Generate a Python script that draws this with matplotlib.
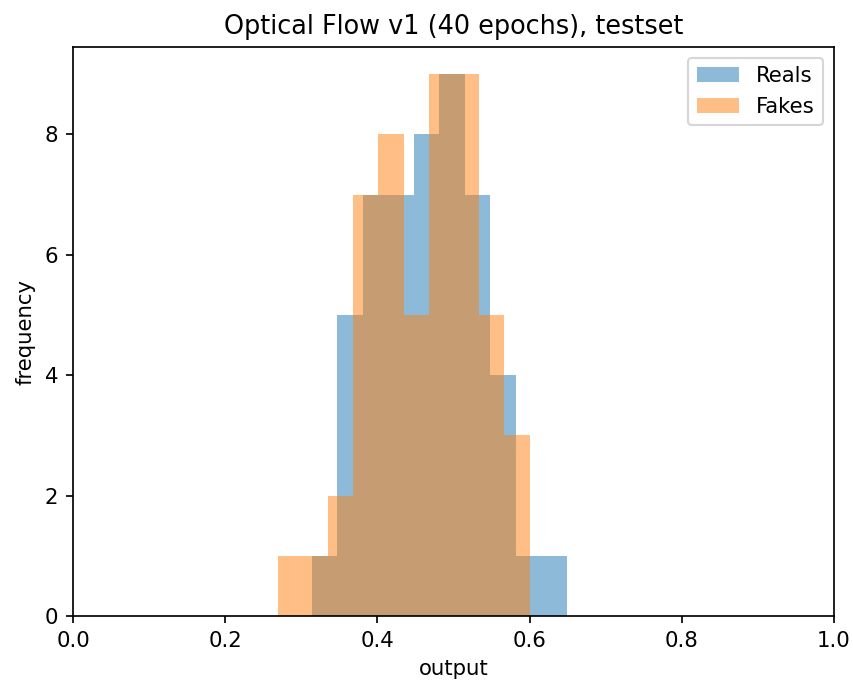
import numpy as np
import matplotlib
matplotlib.use("Agg")
import matplotlib.pyplot as plt

# bin edges and counts
reals_edges = np.linspace(0.3135, 0.6485, 11)
reals_counts = [1, 5, 7, 7, 8, 9, 7, 4, 1, 1]

fakes_edges = np.linspace(0.269, 0.600, 11)
fakes_counts = [1, 1, 2, 7, 8, 5, 9, 9, 5, 3]

DPI = 153
fig = plt.figure(figsize=(853 / DPI, 684 / DPI), dpi=DPI)
ax = fig.add_axes([73 / 853, 1 - 616 / 684, (834 - 73) / 853, (616 - 47) / 684])

ax.hist(reals_edges[:-1], bins=reals_edges, weights=reals_counts, alpha=0.5, label='Reals')
ax.hist(fakes_edges[:-1], bins=fakes_edges, weights=fakes_counts, alpha=0.5, label='Fakes')

ax.set_xlim(0, 1)
ax.set_title("Optical Flow v1 (40 epochs), testset")
ax.set_xlabel("output")
ax.set_ylabel("frequency")
ax.legend()

fig.savefig("out.png", dpi=DPI)
